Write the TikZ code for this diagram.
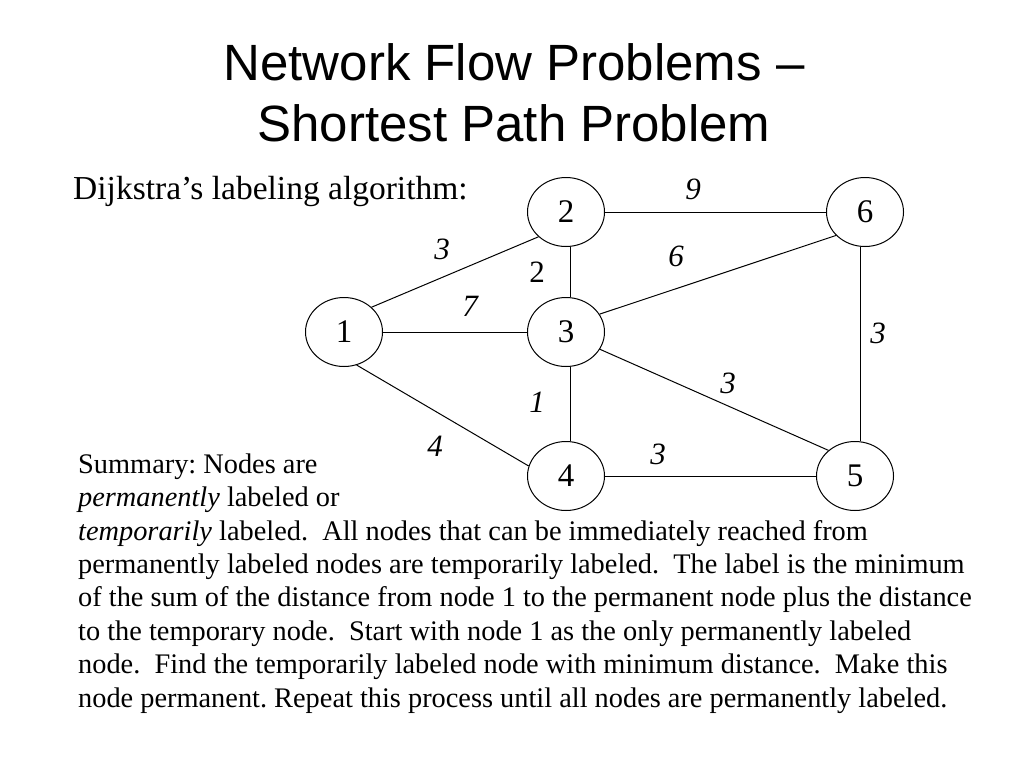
\documentclass[tikz,border=0pt]{standalone}
\usepackage{fontspec}
\setmainfont{Liberation Serif}
\newfontfamily\titlefont{Liberation Sans}
\usetikzlibrary{shapes.geometric}
\newcommand\twosp{\hspace{0.5em}}
\begin{document}
\frenchspacing
\begin{tikzpicture}[x=1pt,y=-1pt,
  nd/.style={ellipse, draw, line width=1pt, minimum width=77pt, minimum height=69pt, inner sep=0pt, font=\fontsize{33}{33}\selectfont},
  el/.style={inner sep=0pt, font=\fontsize{31}{31}\selectfont\itshape},
  elu/.style={inner sep=0pt, font=\fontsize{31}{31}\selectfont},
  edge/.style={line width=1pt},
  ttl/.style={anchor=base, inner sep=0pt, font=\titlefont\fontsize{51}{51}\selectfont},
  txt/.style={anchor=base west, inner sep=0pt, font=\fontsize{28.35}{33.4}\selectfont},
  hd/.style={anchor=base west, inner sep=0pt, font=\fontsize{33.5}{33.5}\selectfont}]
\fill[white] (0,0) rectangle (1024,768);
\useasboundingbox (0,0) rectangle (1024,768);
% title
\node[ttl] (t1) at (514,80) {Network Flow Problems –};
\node[ttl] (t2) at (514,141) {Shortest Path Problem};
\node[hd] (hd) at (73,199.3) {Dijkstra’s labeling algorithm:};
% nodes
\node[nd] (n1) at (344,332) {1};
\node[nd] (n2) at (566,212) {2};
\node[nd] (n3) at (566,332) {3};
\node[nd] (n4) at (566,476) {4};
\node[nd] (n5) at (855,476) {5};
\node[nd] (n6) at (865,212) {6};
% edges
\draw[edge] (n1.42) -- (n2.222);
\draw[edge] (n1) -- (n3);
\draw[edge] (n1.291) -- (n4.165);
\draw[edge] (n2) -- (n6);
\draw[edge] ([xshift=4pt]n2.south) -- ([xshift=4pt]n3.north);
\draw[edge] ([xshift=4pt]n3.south) -- ([xshift=4pt]n4.north);
\draw[edge] (n3.28) -- (n6.219);
\draw[edge] (n3.333) -- (n5.136);
\draw[edge] (n4) -- (n5);
\draw[edge] ([xshift=-5pt]n6.south) -- ([xshift=5pt]n5.north);
% edge labels
\node[el] (l26) at (693,189) {9};
\node[el] (l12) at (442,249) {3};
\node[elu] (l23) at (537,272) {2};
\node[el] (l36) at (676,256) {6};
\node[el] (l13) at (470,306) {7};
\node[el] (l65) at (878,333) {3};
\node[el] (l35) at (728,383) {3};
\node[el] (l34) at (537,402) {1};
\node[el] (l14) at (435,446) {4};
\node[el] (l45) at (658,454) {3};
% summary text
\node[txt] (s1) at (78,473.3) {Summary: Nodes are};
\node[txt] (s2) at (78,506.7) {\textit{permanently} labeled or};
\node[txt] (s3) at (78,540.1) {\textit{temporarily} labeled.\twosp All nodes that can be immediately reached from};
\node[txt] (s4) at (78,573.5) {permanently labeled nodes are temporarily labeled.\twosp The label is the minimum};
\node[txt] (s5) at (78,606.9) {of the sum of the distance from node 1 to the permanent node plus the distance};
\node[txt] (s6) at (78,640.3) {to the temporary node.\twosp Start with node 1 as the only permanently labeled};
\node[txt] (s7) at (78,673.7) {node.\twosp Find the temporarily labeled node with minimum distance.\twosp Make this};
\node[txt] (s8) at (78,707.1) {node permanent. Repeat this process until all nodes are permanently labeled.};
\end{tikzpicture}
\end{document}
